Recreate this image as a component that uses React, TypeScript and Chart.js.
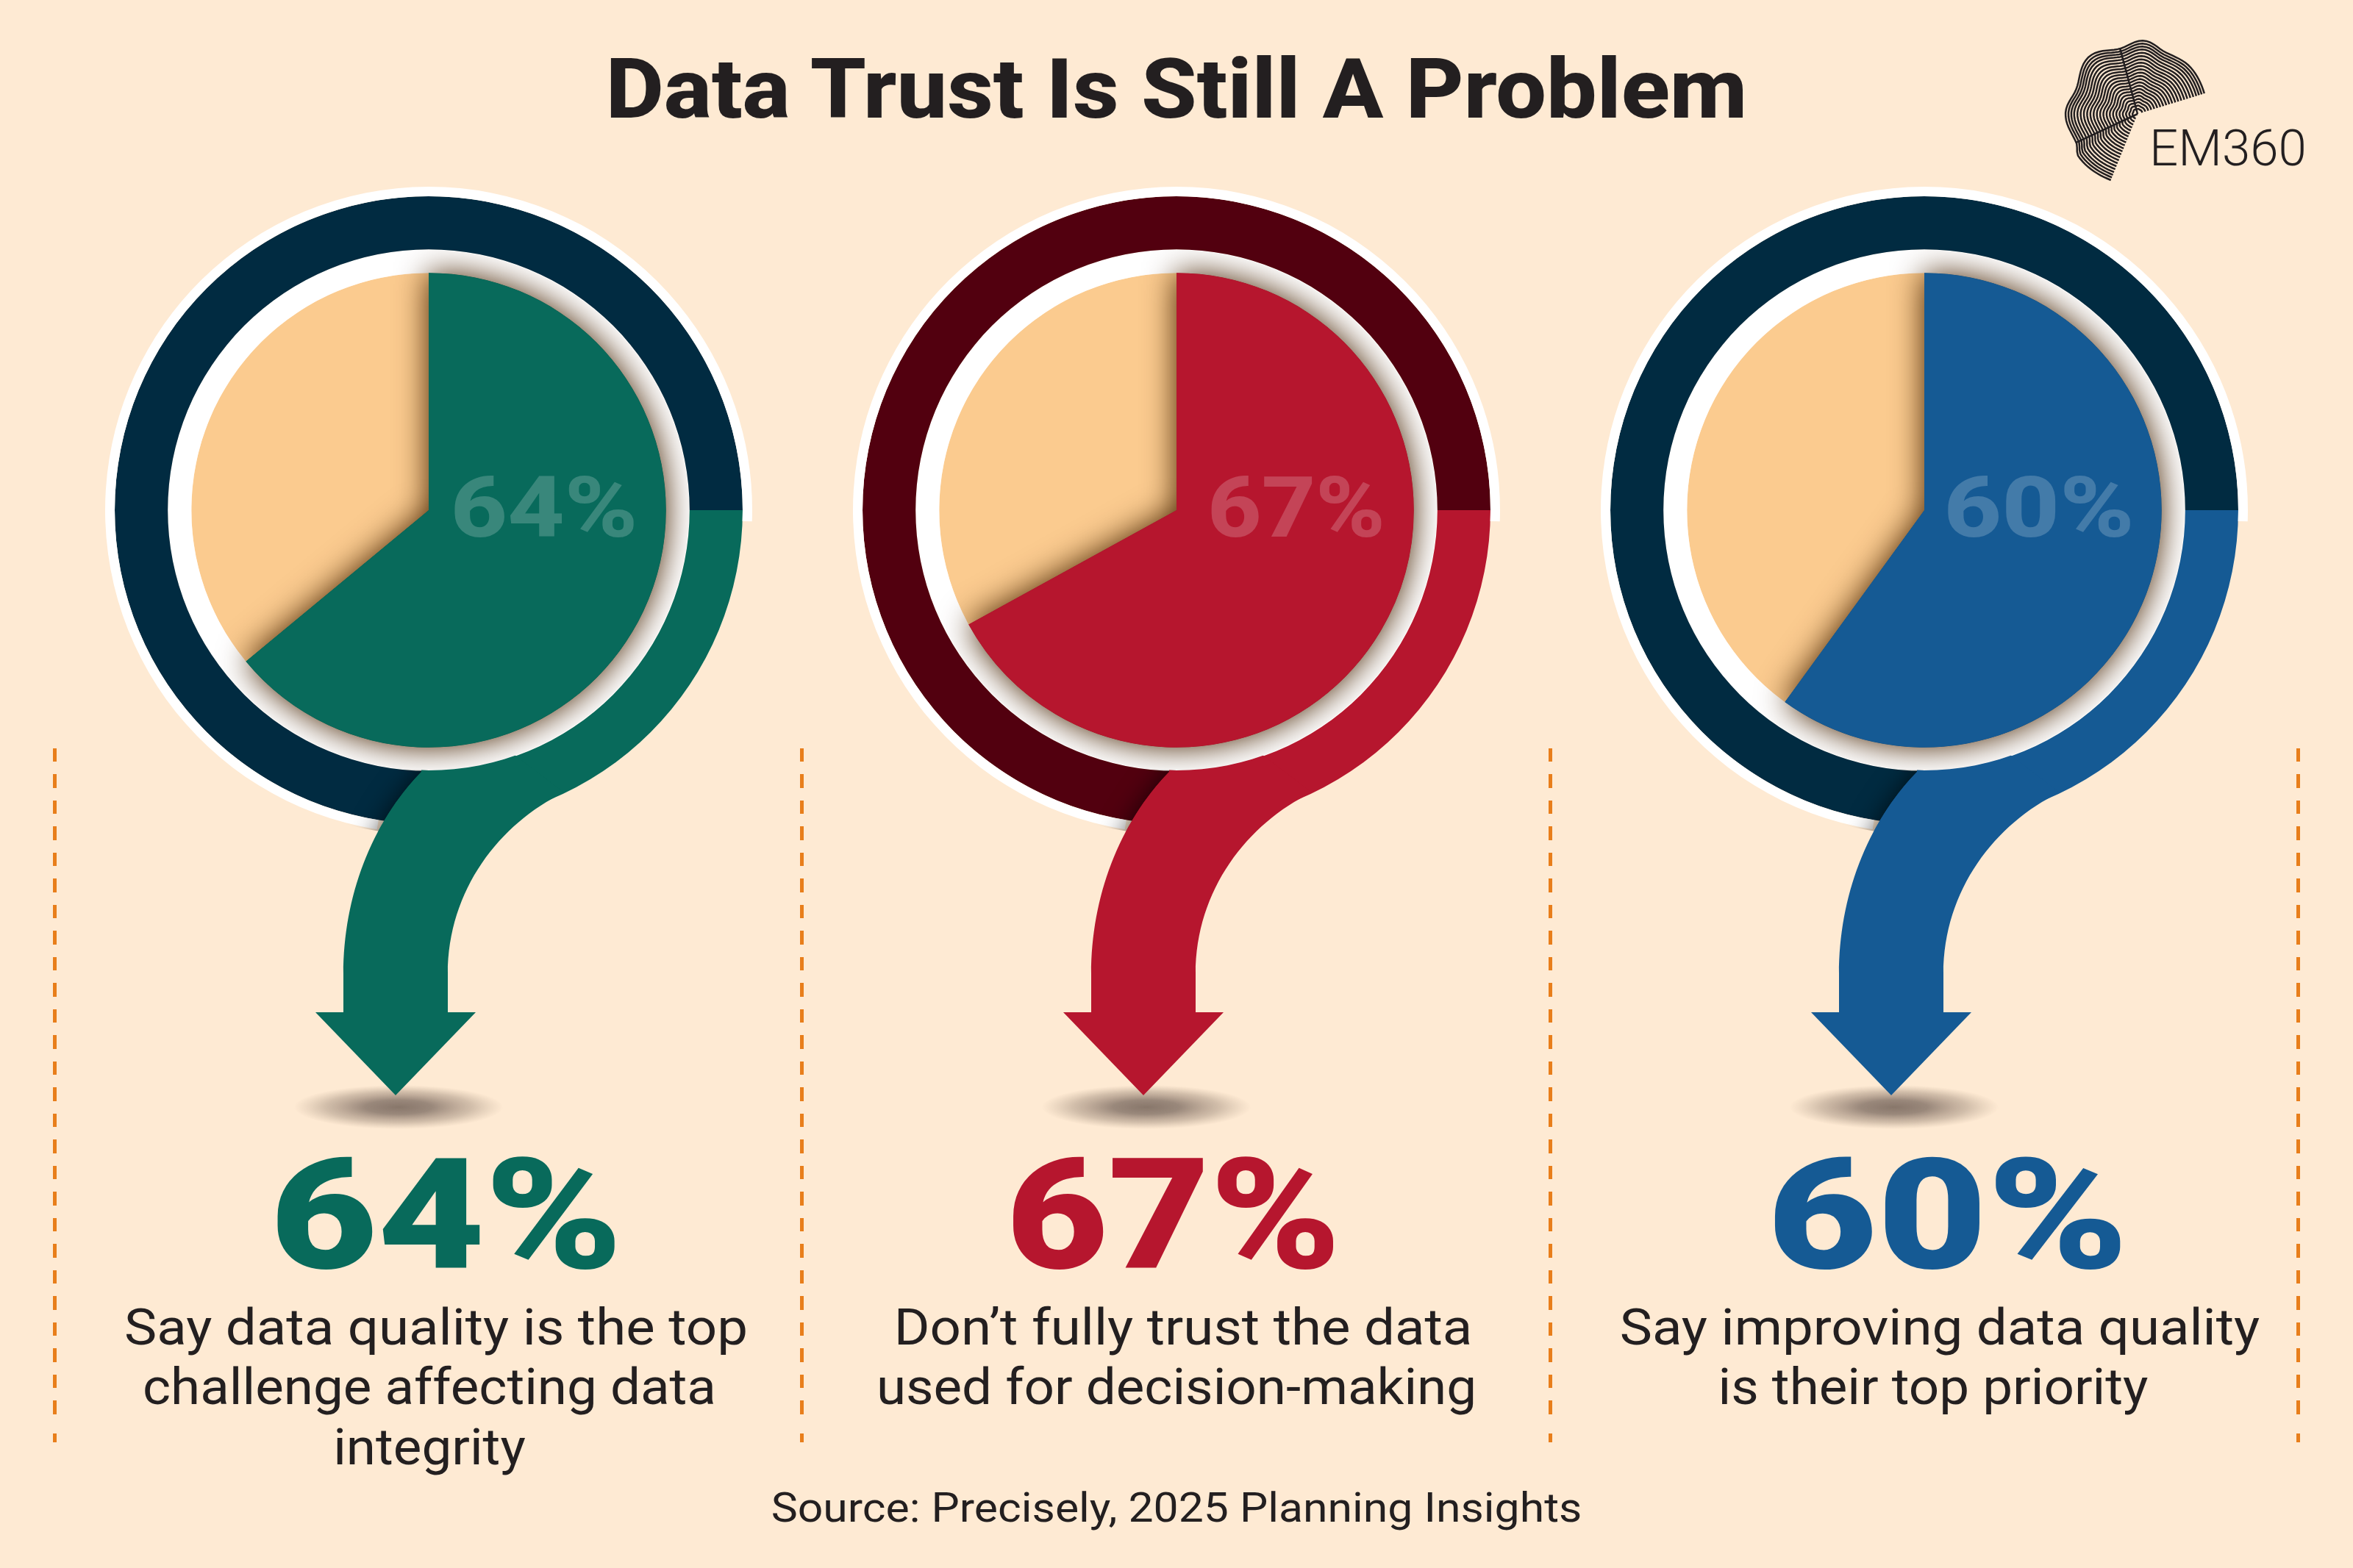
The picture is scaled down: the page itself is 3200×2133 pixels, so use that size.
import { useEffect, useRef } from "react"
import { Chart, registerables } from "chart.js"

Chart.register(...registerables)

const title = "Data Trust Is Still A Problem"
const source = "Source: Precisely, 2025 Planning Insights"
const logoText = "EM360"

// share of respondents per panel
const categories = ["Data quality challenge", "Don't fully trust", "Top priority"]
const shareValues = [64, 67, 60]
const remainderValues = [36, 33, 40]
// the coloured quarter of the outer ring, then the dark rest
const ringValues = [25, 75]
// white rim: gap behind the arrow, then the rim itself
const rimValues = [27, 73]
const captions = [
  ["Say data quality is the top", "challenge affecting data", "integrity"],
  ["Don’t fully trust the data", "used for decision-making"],
  ["Say improving data quality", "is their top priority"],
]

const sliceColors = ["#086A5B", "#B6162E", "#155A94"]
const ringColors = ["#012B41", "#52000F", "#012B41"]
const CREAM = "#FBCB8F"
const BG = "#FEEAD3"
const INK = "#231F20"

const chartCentersX = [583, 1600, 2617]
const bigCentersX = [607, 1596, 2649]
const bigStretch = [1.2, 1.14, 1.23]
const captionCentersX = [584, 1600, 2629]
const labelOffsetsX = [157, 163, 156]
const labelStretch = [1.17, 1.11, 1.19]
const dashX = [74, 1090, 2108, 3125]

const CENTER_Y = 694
const CANVAS_W = 900
const CANVAS_H = 1300
const FONT = "Roboto, sans-serif"

// arrow, drawn relative to the pie centre, behind the white inner ring
function arrowPath(ctx: CanvasRenderingContext2D, x: number, y: number) {
  ctx.beginPath()
  ctx.moveTo(x + 184, y + 384)
  ctx.bezierCurveTo(x + 97, y + 426, x + 26, y + 516, x + 26, y + 631)
  ctx.lineTo(x + 26, y + 683)
  ctx.lineTo(x + 64, y + 683)
  ctx.lineTo(x - 45, y + 796)
  ctx.lineTo(x - 154, y + 683)
  ctx.lineTo(x - 116, y + 683)
  ctx.lineTo(x - 116, y + 631)
  ctx.bezierCurveTo(x - 116, y + 526, x - 78, y + 426, x - 10, y + 356)
  ctx.lineTo(x - 10, y + 340)
  ctx.lineTo(x + 100, y + 320)
  ctx.closePath()
}

function makeDecorPlugin(color: string) {
  return {
    id: "decor",
    afterDatasetsDraw(chart: Chart) {
      const { ctx } = chart
      const slice: any = chart.getDatasetMeta(3).data[0]
      const x = slice.x
      const y = slice.y

      // ground shadow below the arrow tip
      ctx.save()
      ctx.translate(x - 41, y + 812)
      ctx.scale(1, 30 / 142)
      const glow = ctx.createRadialGradient(0, 0, 0, 0, 0, 142)
      glow.addColorStop(0, "rgba(115,98,88,0.85)")
      glow.addColorStop(0.32, "rgba(125,108,98,0.78)")
      glow.addColorStop(0.7, "rgba(150,130,115,0.42)")
      glow.addColorStop(1, "rgba(170,150,130,0)")
      ctx.fillStyle = glow
      ctx.beginPath()
      ctx.arc(0, 0, 142, 0, Math.PI * 2)
      ctx.fill()
      ctx.restore()

      // arrow shadow on the dark ring, only left of the stem
      ctx.save()
      ctx.beginPath()
      ctx.rect(x - 450, y, 450, 460)
      ctx.clip()
      ctx.beginPath()
      ctx.arc(x, y, 442, 0, Math.PI * 2)
      ctx.arc(x, y, 354, 0, Math.PI * 2, true)
      ctx.clip()
      ctx.shadowColor = "rgba(0,0,0,0.65)"
      ctx.shadowBlur = 34
      ctx.fillStyle = color
      arrowPath(ctx, x, y)
      ctx.fill()
      ctx.restore()

      // arrow itself, kept out of the inner ring
      ctx.save()
      ctx.beginPath()
      ctx.rect(x - 450, y - 450, 900, 1300)
      ctx.arc(x, y, 354, 0, Math.PI * 2, true)
      ctx.clip("evenodd")
      ctx.fillStyle = color
      arrowPath(ctx, x, y)
      ctx.fill()
      ctx.restore()

      // coloured slice throws a shadow on the cream slice and the white ring
      ctx.save()
      ctx.beginPath()
      ctx.arc(x, y, 354, 0, Math.PI * 2)
      ctx.clip()
      ctx.shadowColor = "rgba(70,35,0,1)"
      ctx.shadowBlur = 44
      slice.draw(ctx)
      ctx.restore()
    },
  }
}

function PiePanel({ index }: { index: number }) {
  const canvasRef = useRef<HTMLCanvasElement>(null)

  useEffect(() => {
    if (!canvasRef.current) return
    const color = sliceColors[index]
    const chart = new Chart(canvasRef.current, {
      type: "doughnut",
      data: {
        labels: [categories[index], "Other"],
        datasets: [
          {
            data: rimValues,
            backgroundColor: ["rgba(0,0,0,0)", "#FFFFFF"],
            rotation: 92,
            weight: 13,
            borderWidth: 0,
          },
          {
            data: ringValues,
            backgroundColor: [color, ringColors[index]],
            rotation: 90,
            weight: 72,
            borderWidth: 0,
          },
          {
            data: [100],
            backgroundColor: ["#FFFFFF"],
            weight: 32,
            borderWidth: 0,
          },
          {
            data: [shareValues[index], remainderValues[index]],
            backgroundColor: [color, CREAM],
            weight: 322,
            borderWidth: 0,
          },
        ] as any,
      },
      options: {
        responsive: false,
        animation: false,
        cutout: 0,
        layout: { padding: { top: 10, left: 10, right: 10, bottom: CANVAS_H - 890 } },
        plugins: { legend: { display: false }, tooltip: { enabled: false } },
      },
      plugins: [makeDecorPlugin(color)],
    })
    return () => chart.destroy()
  }, [index])

  return (
    <canvas
      ref={canvasRef}
      width={CANVAS_W}
      height={CANVAS_H}
      style={{
        position: "absolute",
        left: chartCentersX[index] - CANVAS_W / 2,
        top: CENTER_Y - 450,
        width: CANVAS_W,
        height: CANVAS_H,
      }}
    />
  )
}

function Label(props: {
  cx: number
  baseline: number
  size: number
  weight: number
  color: string
  stretch?: number
  children: string
}) {
  const { cx, baseline, size, weight, color, stretch, children } = props
  return (
    <div
      style={{
        position: "absolute",
        left: cx - 1000,
        width: 2000,
        top: baseline - 0.841 * size,
        textAlign: "center",
        whiteSpace: "nowrap",
        fontFamily: FONT,
        fontSize: size,
        lineHeight: `${size}px`,
        fontWeight: weight,
        transform: `scaleX(${stretch ?? 1})`,
        color,
      }}
    >
      {children}
    </div>
  )
}

// outline of the logo swirl: angle (deg) and radius from its pivot
const logoAngles = [17, 40, 65, 85, 105, 130, 158, 180, 205, 216, 250]
const logoRadii = [95, 96, 92, 100, 92, 102, 90, 98, 92, 99, 97]
const logoCreases = [105, 205]
const LOGO_X = 2907
const LOGO_Y = 155

function logoRadius(a: number) {
  let i = 0
  while (i < logoAngles.length - 2 && logoAngles[i + 1] < a) i++
  const t = (a - logoAngles[i]) / (logoAngles[i + 1] - logoAngles[i])
  const s = (1 - Math.cos(Math.PI * t)) / 2
  return logoRadii[i] + (logoRadii[i + 1] - logoRadii[i]) * s
}

function logoRing(share: number) {
  let d = ""
  for (let a = 17; a <= 250; a += 3) {
    const r = logoRadius(a) * share
    const rad = (a * Math.PI) / 180
    d += `${d ? "L" : "M"}${(LOGO_X + r * Math.cos(rad)).toFixed(1)} ${(LOGO_Y - r * Math.sin(rad)).toFixed(1)}`
  }
  return d
}

const logoShares = [
  0.07, 0.115, 0.16, 0.205, 0.25, 0.295, 0.34, 0.385, 0.43, 0.475, 0.52, 0.565, 0.61, 0.655, 0.7, 0.745, 0.79, 0.835,
  0.88, 0.92, 0.96, 1,
]

export default function App() {
  return (
    <div
      style={{
        position: "absolute",
        left: 0,
        top: 0,
        width: 3200,
        height: 2133,
        overflow: "hidden",
        background: BG,
      }}
    >
      {dashX.map((x) => (
        <div key={x}>
          <div
            style={{
              position: "absolute",
              left: x - 2.5,
              top: 1018,
              width: 5,
              height: 906,
              background: "repeating-linear-gradient(to bottom, #E87E1B 0 18px, transparent 18px 35.5px)",
            }}
          />
          <div style={{ position: "absolute", left: x - 2.5, top: 1950, width: 5, height: 12, background: "#E87E1B" }} />
        </div>
      ))}

      {categories.map((c, i) => (
        <PiePanel key={c} index={i} />
      ))}

      <svg width={3200} height={2133} style={{ position: "absolute", left: 0, top: 0 }}>
        {logoShares.map((s) => (
          <path key={s} d={logoRing(s)} fill="none" stroke={INK} strokeWidth={2.5} />
        ))}
        {logoCreases.map((a) => (
          <line
            key={a}
            x1={LOGO_X}
            y1={LOGO_Y}
            x2={LOGO_X + logoRadius(a) * Math.cos((a * Math.PI) / 180)}
            y2={LOGO_Y - logoRadius(a) * Math.sin((a * Math.PI) / 180)}
            stroke={INK}
            strokeWidth={2.5}
          />
        ))}
      </svg>

      <Label cx={1600} baseline={160} size={113} weight={800} color={INK} stretch={1.08}>
        {title}
      </Label>
      <Label cx={3030} baseline={225} size={69} weight={300} color={INK}>
        {logoText}
      </Label>

      {shareValues.map((v, i) => (
        <Label
          key={`in-${i}`}
          cx={chartCentersX[i] + labelOffsetsX[i]}
          baseline={730}
          size={115}
          weight={800}
          color="rgba(255,255,255,0.2)"
          stretch={labelStretch[i]}
        >
          {`${v}%`}
        </Label>
      ))}

      {shareValues.map((v, i) => (
        <Label
          key={`big-${i}`}
          cx={bigCentersX[i]}
          baseline={1725}
          size={210}
          weight={900}
          color={sliceColors[i]}
          stretch={bigStretch[i]}
        >
          {`${v}%`}
        </Label>
      ))}

      {captions.map((lines, i) =>
        lines.map((line, j) => (
          <Label
            key={line}
            cx={captionCentersX[i] + (j === 0 ? 9 : 0)}
            baseline={1829 + j * 81.5}
            size={68}
            weight={400}
            color={INK}
            stretch={j === 0 ? 1.095 : 1.07}
          >
            {line}
          </Label>
        )),
      )}

      <Label cx={1600} baseline={2070} size={56} weight={400} color={INK} stretch={1.084}>
        {source}
      </Label>
    </div>
  )
}
